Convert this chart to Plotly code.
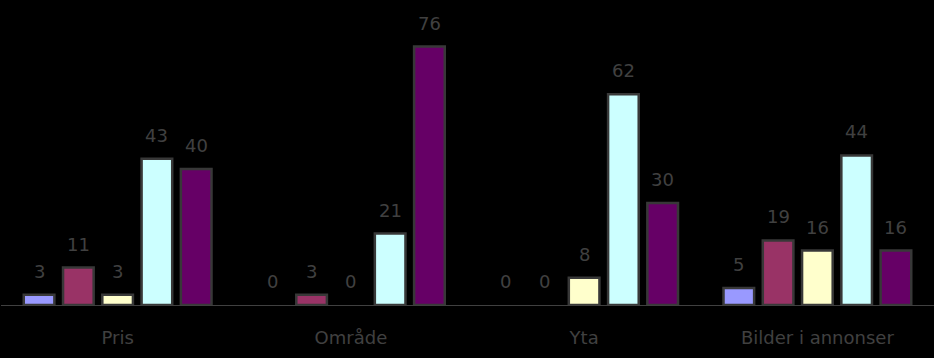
import plotly.graph_objects as go

categories = ["Pris", "Område", "Yta", "Bilder i annonser"]
series_names = ["Serie 1", "Serie 2", "Serie 3", "Serie 4", "Serie 5"]
values_s1 = [3, 0, 0, 5]
values_s2 = [11, 3, 0, 19]
values_s3 = [3, 0, 8, 16]
values_s4 = [43, 21, 62, 44]
values_s5 = [40, 76, 30, 16]
series_values = [values_s1, values_s2, values_s3, values_s4, values_s5]
colors = ["#9999FF", "#993366", "#FFFFCC", "#CCFFFF", "#660066"]

TEXT_COLOR = "#404040"
FONT = "DejaVu Sans"
BARGAP = 0.158
n_series = len(series_values)

fig = go.Figure()
for name, vals, col in zip(series_names, series_values, colors):
    fig.add_trace(go.Bar(
        x=categories, y=vals, name=name,
        marker=dict(color=col,
                    line=dict(color="#383838",
                              width=[2.5 if v > 0 else 0 for v in vals])),
        hoverinfo="x+y",
    ))

# value labels above bars
slot = (1 - BARGAP) / n_series
for j, vals in enumerate(series_values):
    for i, v in enumerate(vals):
        fig.add_annotation(
            x=i + (j - (n_series - 1) / 2) * slot, y=v,
            xref="x", yref="y", text=str(v), showarrow=False,
            yanchor="bottom", yshift=11,
            font=dict(family=FONT, size=18, color=TEXT_COLOR),
        )

fig.update_layout(
    width=934, height=358,
    margin=dict(l=1, r=0, t=33, b=53),
    paper_bgcolor="black", plot_bgcolor="black",
    barmode="group", bargap=BARGAP, bargroupgap=0.22,
    showlegend=False,
    font=dict(family=FONT, size=18, color=TEXT_COLOR),
)
fig.update_xaxes(
    type="category", showgrid=False, zeroline=False,
    showline=True, linecolor="#404040", linewidth=1,
    ticks="", ticklabelstandoff=16,
    tickfont=dict(family=FONT, size=18, color=TEXT_COLOR),
)
fig.update_yaxes(range=[0, 80], visible=False, showgrid=False, zeroline=False)

fig.write_html(
    "out.html",
    config={"displayModeBar": False},
    post_script="document.body.style.margin='0';document.body.style.background='black';",
)
